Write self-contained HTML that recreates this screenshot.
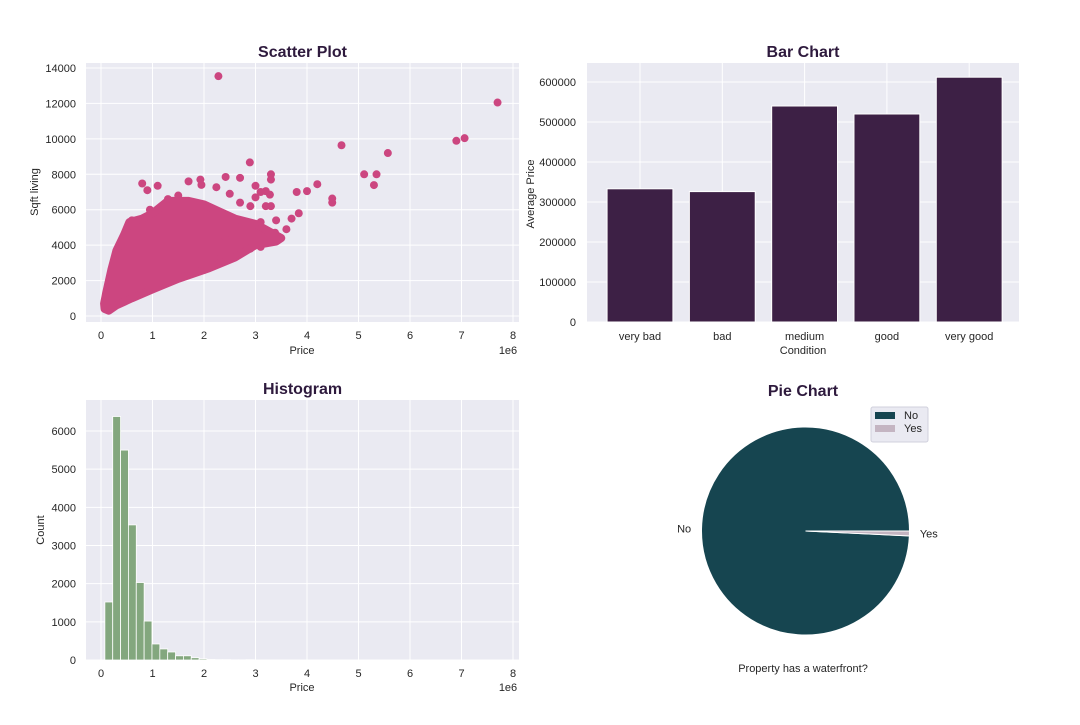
<!DOCTYPE html>
<html><head><meta charset="utf-8"><style>
body{margin:0;background:#fff;font-family:"Liberation Sans",Arial,sans-serif}
svg text{font-family:"Liberation Sans",Arial,sans-serif;fill:#262626}
</style></head><body>
<svg id="s" width="1080" height="720" xmlns="http://www.w3.org/2000/svg"></svg>
<script>
// Scatter data
const scatterCloud=[[0.06,700],[0.1,1300],[0.2,2600],[0.3,3700],[0.45,4600],[0.55,5300],[0.8,5500],[1.0,5800],[1.3,6500],[1.7,6500],[2.0,6300],[2.3,5900],[2.6,5500],[3.0,5200],[3.5,4400],[3.4,4200],[3.0,4000],[2.6,3300],[2.1,2700],[1.5,2100],[1.0,1500],[0.6,1000],[0.3,600],[0.15,300],[0.07,400]];
const scatterPoints=[[2.28,13540],[7.7,12050],[6.9,9890],[7.06,10040],[4.67,9640],[5.57,9200],[5.11,8000],[5.35,8000],[5.3,7390],[4.2,7440],[4.0,7050],[3.8,7000],[4.49,6630],[4.49,6400],[2.89,8670],[2.42,7850],[2.7,7800],[3.3,8000],[3.3,7700],[3.0,7350],[0.8,7480],[1.1,7350],[0.9,7100],[1.7,7600],[1.93,7700],[1.95,7400],[2.24,7270],[3.1,7000],[3.2,7050],[3.28,6850],[3.0,6700],[2.5,6900],[3.84,5800],[3.7,5500],[3.6,4900],[3.38,4700],[3.4,5400],[2.9,6200],[3.2,6200],[3.3,6200],[0.55,5100],[0.6,5400],[0.95,6000],[1.3,6600],[1.5,6800],[2.7,6400],[2.6,5300],[3.1,5300],[2.4,4500],[2.9,3800],[3.1,3900],[2.3,3100],[2.2,3300],[2.0,2600]];
const scatterXTicks=[0,1,2,3,4,5,6,7,8];
const scatterYTicks=[0,2000,4000,6000,8000,10000,12000,14000];
// Bar data
const barCats=["very bad","bad","medium","good","very good"];
const barVals=[333000,326000,540000,520000,612000];
const barYTicks=[0,100000,200000,300000,400000,500000,600000];
// Histogram data
const histStart=0.075, histWidth=0.1525;
const histCounts=[1520,6380,5500,3540,2030,1020,420,290,210,110,110,60,30,15,10,10,5,5,8,3,2,2,1,1,1,1,0,0,0,0,0,0,0,0,0,0,0,0,0,0,0,0,0,0,0,0,0,0,0,1];
const histYTicks=[0,1000,2000,3000,4000,5000,6000];
// Pie data
const pieLabels=["No","Yes"];
const pieVals=[21450,163];

const NS="http://www.w3.org/2000/svg";
const svg=document.getElementById('s');
function el(t,a,p){const e=document.createElementNS(NS,t);for(const k in a)e.setAttribute(k,a[k]);(p||svg).appendChild(e);return e;}
function txt(x,y,s,a,p){const e=el('text',Object.assign({x:x,y:y},a),p);e.textContent=s;return e;}
function panel(name,x0,y0,x1,y1,title,tx){
 const g=el('g',{});
 const r=el('rect',{x:x0,y:y0,width:x1-x0,height:y1-y0,fill:'#eaeaf2'},g);
 
 const t=txt(tx||(x0+x1)/2,y0-6,title,{'text-anchor':'middle','font-size':16,'font-weight':'bold',style:'fill:#2e1a3d'},g);
 
 return g;}

// ---- Scatter ----
(function(){
 const g=panel('scatter-plot',86,63,519,322,'Scatter Plot');
 const X=v=>101+v*51.5, Y=v=>316-v*248/14000;
 scatterXTicks.forEach(t=>{el('line',{x1:X(t),x2:X(t),y1:63,y2:322,stroke:'#fff','stroke-width':1},g);
  const l=txt(X(t),339,String(t),{'text-anchor':'middle','font-size':11},g);});
 scatterYTicks.forEach(t=>{el('line',{x1:86,x2:519,y1:Y(t),y2:Y(t),stroke:'#fff','stroke-width':1},g);
  const l=txt(76,Y(t)+4,String(t),{'text-anchor':'end','font-size':11},g);});
 const poly=el('polygon',{points:scatterCloud.map(p=>X(p[0])+','+Y(p[1])).join(' '),fill:'#cc4680',stroke:'#cc4680','stroke-width':8,'stroke-linejoin':'round'},g);
 
 scatterPoints.forEach(p=>{const c=el('circle',{cx:X(p[0]),cy:Y(p[1]),r:4,fill:'#cc4680'},g);
  });
 let a=txt(302,354,'Price',{'text-anchor':'middle','font-size':11},g);
 a=txt(508,354,'1e6',{'text-anchor':'middle','font-size':11},g);
 a=txt(38,192,'Sqft living',{'text-anchor':'middle','font-size':11,transform:'rotate(-90 38 192)'},g);
})();

// ---- Bar ----
(function(){
 const x0=587,x1=1019;
 const g=panel('bar-chart',x0,63,x1,322,'Bar Chart',803);
 const Y=v=>322-v*240/600000; const step=82.3, c0=640;
 barYTicks.forEach(t=>{el('line',{x1:x0,x2:x1,y1:Y(t),y2:Y(t),stroke:'#fff'},g);
  const l=txt(576,Y(t)+4,String(t),{'text-anchor':'end','font-size':11},g);});
 barCats.forEach((c,i)=>{const cx=c0+step*i;
  el('line',{x1:cx,x2:cx,y1:63,y2:322,stroke:'#fff'},g);
  const b=el('rect',{x:cx-step*0.4,y:Y(barVals[i]),width:step*0.8,height:322-Y(barVals[i]),fill:'#3d2045',stroke:'#fff','stroke-width':1},g);
  
  const l=txt(cx,340,c,{'text-anchor':'middle','font-size':11},g);});
 let a=txt(803,354,'Condition',{'text-anchor':'middle','font-size':11},g);
 a=txt(534,194,'Average Price',{'text-anchor':'middle','font-size':11,transform:'rotate(-90 534 194)'},g);
})();

// ---- Histogram ----
(function(){
 const g=panel('histogram',86,400,519,660,'Histogram');
 const X=v=>101+v*51.5, Y=v=>660-v*229/6000;
 scatterXTicks.forEach(t=>{el('line',{x1:X(t),x2:X(t),y1:400,y2:660,stroke:'#fff'},g);
  const l=txt(X(t),677,String(t),{'text-anchor':'middle','font-size':11},g);});
 histYTicks.forEach(t=>{el('line',{x1:86,x2:519,y1:Y(t),y2:Y(t),stroke:'#fff'},g);
  const l=txt(76,Y(t)+4,String(t),{'text-anchor':'end','font-size':11},g);});
 histCounts.forEach((c,i)=>{if(!c)return;const x0=X(histStart+i*histWidth),x1=X(histStart+(i+1)*histWidth);
  const b=el('rect',{x:x0,y:Y(c),width:x1-x0,height:660-Y(c),fill:'#83a77e',stroke:'#fff','stroke-width':0.8},g);
  });
 let a=txt(302,691,'Price',{'text-anchor':'middle','font-size':11},g);
 a=txt(508,691,'1e6',{'text-anchor':'middle','font-size':11},g);
 a=txt(44,530,'Count',{'text-anchor':'middle','font-size':11,transform:'rotate(-90 44 530)'},g);
})();

// ---- Pie ----
(function(){
 const g=el('g',{});
 let t=txt(803,396,'Pie Chart',{'text-anchor':'middle','font-size':16,'font-weight':'bold',style:'fill:#2e1a3d'},g);
 const cx=805.5,cy=531,r=104,cols=['#164550','#c4b5c2'];
 const tot=pieVals.reduce((a,b)=>a+b,0);let ang=0;
 pieVals.forEach((v,i)=>{const a0=ang,a1=ang+v/tot*2*Math.PI;ang=a1;
  const x0=cx+r*Math.cos(a0),y0=cy-r*Math.sin(a0),x1=cx+r*Math.cos(a1),y1=cy-r*Math.sin(a1);
  const large=(a1-a0)>Math.PI?1:0;
  const p=el('path',{d:`M${cx},${cy} L${x0},${y0} A${r},${r} 0 ${large} 0 ${x1},${y1} Z`,fill:cols[i],stroke:'#fff','stroke-width':1},g);
  
  const m=(a0+a1)/2;const lx=cx+r*1.1*Math.cos(m),ly=cy-r*1.1*Math.sin(m);
  const l=txt(lx,ly+4,pieLabels[i],{'text-anchor':Math.cos(m)>0?'start':'end','font-size':11},g);
  });
 t=txt(803,672,'Property has a waterfront?',{'text-anchor':'middle','font-size':11},g);
 const lg=el('g',{},g);
 el('rect',{x:871,y:407,width:57,height:35,fill:'#eaeaf2',stroke:'#d0d0dc',rx:2},lg);
 pieLabels.forEach((n,i)=>{const e=el('rect',{x:875,y:412+i*13,width:20,height:7,fill:cols[i]},lg);
  
  const l=txt(904,419+i*13,n,{'font-size':11},lg);});
})();
</script>
</body></html>
